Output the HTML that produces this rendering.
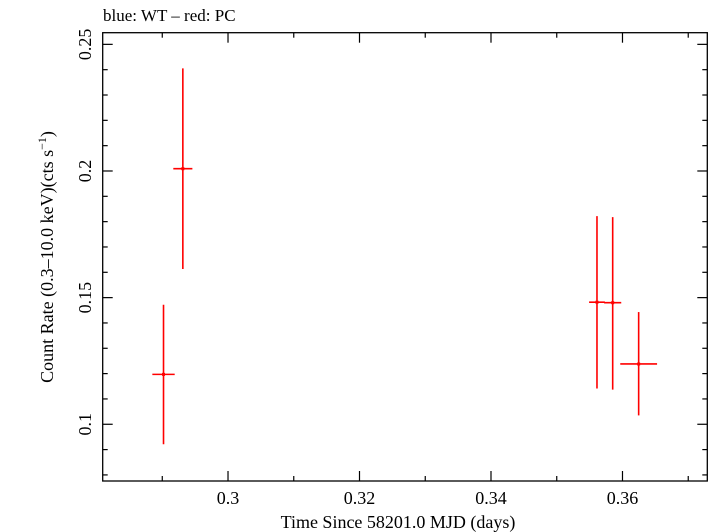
<!DOCTYPE html>
<html><head><meta charset="utf-8"><style>
html,body{margin:0;padding:0;background:#fff;}
svg{display:block;font-family:"Liberation Serif",serif;}
</style></head><body>
<svg id="chart" width="709" height="532" viewBox="0 0 709 532" xmlns="http://www.w3.org/2000/svg">
<text x="103" y="21" font-size="17">blue: WT – red: PC</text>
<rect x="102.7" y="32.7" width="604.6" height="448.3" fill="none" stroke="#000" stroke-width="1.3"/>
<g id="axes"></g>
<g id="series"></g>
<text x="398" y="528" font-size="18" text-anchor="middle">Time Since 58201.0 MJD (days)</text>
<text transform="translate(53,257) rotate(-90)" font-size="18" text-anchor="middle">Count Rate (0.3–10.0 keV)(cts s<tspan dy="-7" font-size="12">−1</tspan><tspan dy="7">)</tspan></text>
</svg>
<script>
const xTicks = [0.3, 0.32, 0.34, 0.36];
const xTickLabels = ["0.3", "0.32", "0.34", "0.36"];
const yTicks = [0.1, 0.15, 0.2, 0.25];
const yTickLabels = ["0.1", "0.15", "0.2", "0.25"];
const times = [0.29019, 0.29313, 0.35612, 0.35851, 0.36246];
const timeErr = [0.0017, 0.00145, 0.0012, 0.0013, 0.0028];
const rates = [0.1197, 0.2009, 0.1482, 0.1480, 0.1238];
const rateHi = [0.1472, 0.2405, 0.1822, 0.1818, 0.1443];
const rateLo = [0.0921, 0.1613, 0.1141, 0.1137, 0.1035];

const X0=102.7, X1=707.3, Y0=481, Y1=32.7;
const xMin=0.28094, xMax=0.3729, yMin=0.0776, yMax=0.2546;
const xs = v => X0 + (v-xMin)/(xMax-xMin)*(X1-X0);
const ys = v => Y0 - (v-yMin)/(yMax-yMin)*(Y0-Y1);
const NS="http://www.w3.org/2000/svg";
function mk(tag, attrs, parent){const e=document.createElementNS(NS,tag);for(const k in attrs)e.setAttribute(k,attrs[k]);parent.appendChild(e);return e;}
const axes=document.getElementById('axes');
const series=document.getElementById('series');
for(let i=0;i<=12;i++){const v=0.28+i*0.01; if(v<xMin||v>xMax)continue; const x=xs(v); const major=xTicks.some(t=>Math.abs(t-v)<1e-6); const len=major?10:5;
 const t1=mk('line',{x1:x,x2:x,y1:Y0,y2:Y0-len,stroke:'#000','stroke-width':1.2},axes);
 
 
 const t2=mk('line',{x1:x,x2:x,y1:Y1,y2:Y1+len,stroke:'#000','stroke-width':1.2},axes);
 
 }
xTicks.forEach((v,i)=>{const t=mk('text',{x:xs(v),y:504,'font-size':18,'text-anchor':'middle'},axes);t.textContent=xTickLabels[i];
 
 });
for(let i=0;i<=20;i++){const v=0.07+i*0.01; if(v<yMin||v>yMax)continue; const y=ys(v); const major=yTicks.some(t=>Math.abs(t-v)<1e-6); const len=major?10:5;
 const t1=mk('line',{x1:X0,x2:X0+len,y1:y,y2:y,stroke:'#000','stroke-width':1.2},axes);
 
 
 const t2=mk('line',{x1:X1,x2:X1-len,y1:y,y2:y,stroke:'#000','stroke-width':1.2},axes);
 
 }
yTicks.forEach((v,i)=>{const t=mk('text',{transform:`translate(91,${ys(v)}) rotate(-90)`,'font-size':18,'text-anchor':'middle'},axes);t.textContent=yTickLabels[i];
 
 });
times.forEach((t,i)=>{
 const g=mk('g',{},series);
 
 
 mk('line',{x1:xs(t),x2:xs(t),y1:ys(rateHi[i]),y2:ys(rateLo[i]),stroke:'#f00','stroke-width':1.6},g);
 mk('line',{x1:xs(t-timeErr[i]),x2:xs(t+timeErr[i]),y1:ys(rates[i]),y2:ys(rates[i]),stroke:'#f00','stroke-width':1.6},g);
 mk('rect',{x:xs(t)-1.5,y:ys(rates[i])-1.5,width:3,height:3,fill:'#f00'},g);
});
</script>
</body></html>
